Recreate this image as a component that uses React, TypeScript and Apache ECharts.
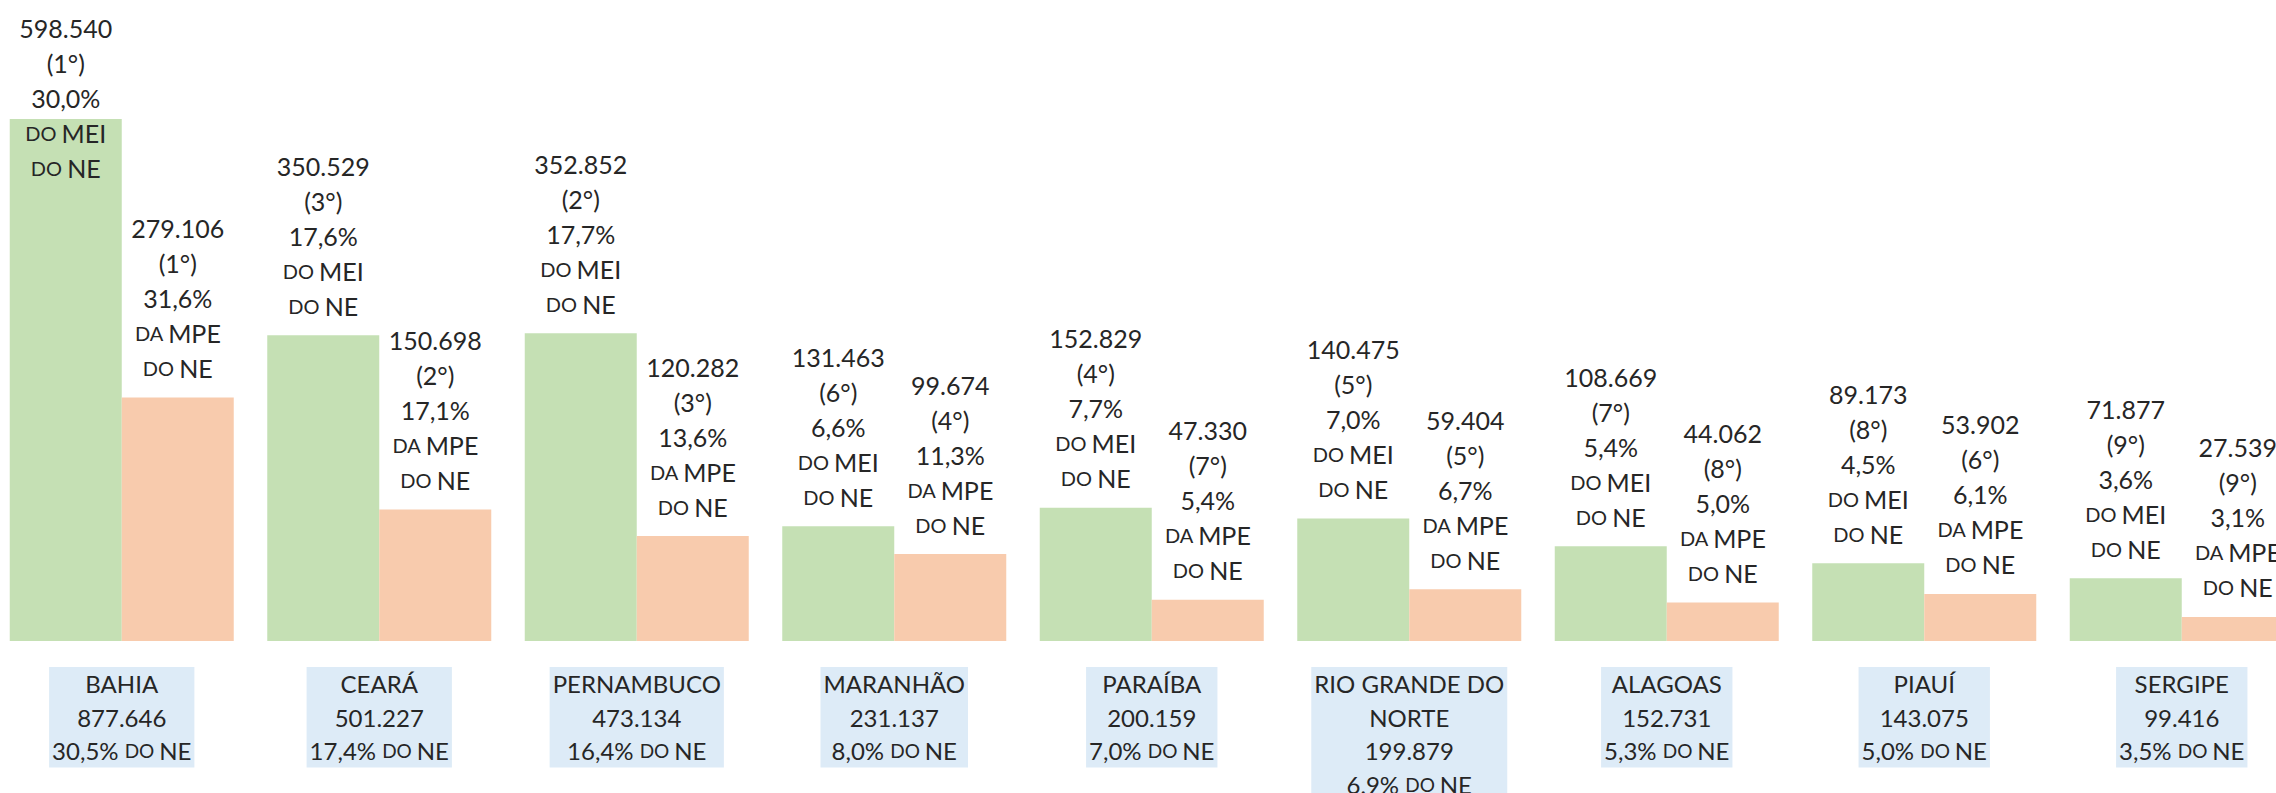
import React, { useEffect, useRef } from "react";
import * as echarts from "echarts";

const categories = ["BAHIA", "CEARÁ", "PERNAMBUCO", "MARANHÃO", "PARAÍBA", "RIO GRANDE DO NORTE", "ALAGOAS", "PIAUÍ", "SERGIPE"];
const meiValues = [598540, 350529, 352852, 131463, 152829, 140475, 108669, 89173, 71877];
const meiRanks = [1, 3, 2, 6, 4, 5, 7, 8, 9];
const meiShares = [30.0, 17.6, 17.7, 6.6, 7.7, 7.0, 5.4, 4.5, 3.6];
const mpeValues = [279106, 150698, 120282, 99674, 47330, 59404, 44062, 53902, 27539];
const mpeRanks = [1, 2, 3, 4, 7, 5, 8, 6, 9];
const mpeShares = [31.6, 17.1, 13.6, 11.3, 5.4, 6.7, 5.0, 6.1, 3.1];
const totalValues = [877646, 501227, 473134, 231137, 200159, 199879, 152731, 143075, 99416];
const totalShares = [30.5, 17.4, 16.4, 8.0, 7.0, 6.9, 5.3, 5.0, 3.5];

const FONT = "Lato, 'Open Sans', sans-serif";
const TEXT = "#262626";

const fmtInt = (v: number) => String(v).replace(/\B(?=(\d{3})+(?!\d))/g, ".");
const fmtPct = (v: number) => v.toFixed(1).replace(".", ",") + "%";

const wrap = (s: string, max: number) => {
  const words = s.split(" ");
  const lines: string[] = [];
  let cur = "";
  for (const w of words) {
    if (cur && (cur + " " + w).length > max) {
      lines.push(cur);
      cur = w;
    } else {
      cur = cur ? cur + " " + w : w;
    }
  }
  if (cur) lines.push(cur);
  return lines;
};

const rich = {
  n: { fontFamily: FONT, fontSize: 25, lineHeight: 35, color: TEXT, align: "center" },
  s: { fontFamily: FONT, fontSize: 20, lineHeight: 35, color: TEXT, align: "center" },
};
const richAxis = {
  n: { fontFamily: FONT, fontSize: 24, lineHeight: 33.5, color: TEXT, align: "center" },
  s: { fontFamily: FONT, fontSize: 19, lineHeight: 33.5, color: TEXT, align: "center" },
};

const barLabel = (value: number, rank: number, share: number, art: string, kind: string) =>
  [
    `{n|${fmtInt(value)}}`,
    `{n|(${rank}°)}`,
    `{n|${fmtPct(share)}}`,
    `{s|${art} }{n|${kind}}`,
    `{s|DO }{n|NE}`,
  ].join("\n");

export default function App() {
  const ref = useRef<HTMLDivElement>(null);
  useEffect(() => {
    if (!ref.current) return;
    const chart = echarts.init(ref.current, null, { renderer: "svg" });
    const labelBase = {
      show: true,
      position: "top",
      distance: 12,
      fontFamily: FONT,
      color: TEXT,
      rich,
    };
    chart.setOption({
      animation: false,
      backgroundColor: "#ffffff",
      grid: { left: -7, top: 0, width: 2317.5, height: 641, containLabel: false, outerBoundsMode: "none" },
      xAxis: {
        type: "category",
        data: categories,
        axisLine: { show: false },
        axisTick: { show: false },
        axisLabel: {
          interval: 0,
          margin: 26,
          backgroundColor: "#DDEBF7",
          padding: [0, 3],
          fontFamily: FONT,
          color: TEXT,
          rich: richAxis,
          formatter: (value: string, index: number) => {
            const nameLines = wrap(value, 14).map((l) => `{n|${l}}`);
            return [
              ...nameLines,
              `{n|${fmtInt(totalValues[index])}}`,
              `{n|${fmtPct(totalShares[index])} }{s|DO }{n|NE}`,
            ].join("\n");
          },
        },
      },
      yAxis: {
        type: "value",
        min: 0,
        max: 735000,
        show: false,
        splitLine: { show: false },
      },
      series: [
        {
          name: "MEI",
          type: "bar",
          barWidth: 112,
          barGap: "0%",
          itemStyle: { color: "#C5E0B4" },
          data: meiValues.map((v, i) => ({
            value: v,
            label: {
              formatter: barLabel(v, meiRanks[i], meiShares[i], "DO", "MEI"),
              ...(i === 0 ? { offset: [0, 78] } : {}),
            },
          })),
          label: labelBase,
        },
        {
          name: "MPE",
          type: "bar",
          barWidth: 112,
          barGap: "0%",
          itemStyle: { color: "#F8CBAD" },
          data: mpeValues.map((v, i) => ({
            value: v,
            label: { formatter: barLabel(v, mpeRanks[i], mpeShares[i], "DA", "MPE") },
          })),
          label: labelBase,
        },
      ],
    });
    return () => chart.dispose();
  }, []);
  return (
    <div
      ref={ref}
      style={{ position: "fixed", left: 0, top: 0, width: 2276, height: 793, background: "#fff" }}
    />
  );
}
